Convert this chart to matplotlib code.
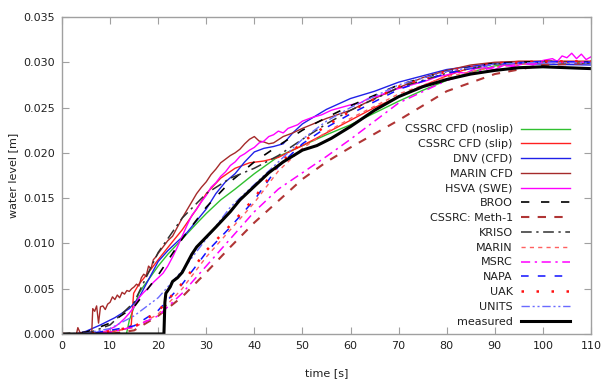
import matplotlib
matplotlib.use('Agg')
import matplotlib.pyplot as plt
import numpy as np

# ---- data (time [s], water level [m]) ----
noslip_t = [0, 13.4, 14, 15, 16, 17, 18, 20, 22, 25, 28, 30, 33, 36, 40, 45, 50, 55, 60, 65, 70, 75, 80, 85, 90, 95, 100, 110]
noslip_v = [0, 0, 0.0015, 0.003, 0.0045, 0.0053, 0.006, 0.0075, 0.0088, 0.0105, 0.0122, 0.0133, 0.0148, 0.016, 0.0177, 0.0196,
            0.0208, 0.022, 0.0231, 0.0244, 0.0257, 0.0269, 0.028, 0.0289, 0.0296, 0.0299, 0.03, 0.03]

slip_t = [0, 5, 10, 13.5, 14.4, 14.9, 16, 18, 20, 23, 25, 28, 30, 33, 36, 39, 42, 45, 48, 50, 55, 60, 65, 70, 75, 80, 85, 90, 95, 100, 110]
slip_v = [0, 0, 0.0002, 0.0006, 0.001, 0.0045, 0.0055, 0.0068, 0.0082, 0.0102, 0.0115, 0.0138, 0.0155, 0.0172, 0.0183, 0.0189,
          0.0191, 0.0195, 0.0203, 0.0208, 0.0222, 0.0236, 0.025, 0.0262, 0.0274, 0.0285, 0.0294, 0.0299, 0.0301, 0.0301, 0.0301]

dnv_t = [0, 3, 5, 8, 11, 14, 16, 18, 20, 22, 24, 26, 28, 30, 32, 34, 36, 38, 40, 42, 44, 46, 48, 50, 55, 60, 65, 70, 80, 90, 100, 110]
dnv_v = [0, 0, 0.0003, 0.001, 0.0018, 0.0028, 0.004, 0.006, 0.008, 0.0092, 0.0102, 0.0112, 0.0125, 0.0138, 0.0155, 0.0168, 0.0177,
         0.019, 0.0201, 0.0205, 0.0207, 0.021, 0.0222, 0.0232, 0.0248, 0.026, 0.0268, 0.0278, 0.0292, 0.0299, 0.0298, 0.0297]

marincfd_t = [0, 3, 3.3, 3.8, 5, 6.2, 6.4, 6.8, 7.2, 7.6, 8, 8.5, 9, 9.5, 10, 10.5, 11, 11.5, 12, 12.5, 13, 13.5, 14, 14.5, 15, 15.5,
              16, 16.5, 17, 17.5, 18, 18.5, 19, 19.5, 20, 21, 22, 23, 24, 25, 26, 27, 28, 29, 30, 31, 32, 33, 34, 35, 36, 37, 38,
              39, 40, 41, 42, 43, 44, 46, 48, 50, 55, 60, 65, 70, 75, 80, 85, 90, 95, 100, 105, 110]
marincfd_v = [0, 0, 0.0007, 0.0001, 0.0002, 0.0003, 0.0028, 0.0025, 0.0031, 0.0012, 0.003, 0.0031, 0.0027, 0.0033, 0.0035, 0.0041,
              0.0038, 0.0043, 0.004, 0.0046, 0.0044, 0.0048, 0.0047, 0.005, 0.0052, 0.0055, 0.0053, 0.0062, 0.0066, 0.0064, 0.0075,
              0.0072, 0.0082, 0.0085, 0.0089, 0.0096, 0.0103, 0.0108, 0.0118, 0.0128, 0.0137, 0.0146, 0.0155, 0.0162, 0.0168,
              0.0176, 0.0182, 0.0189, 0.0193, 0.0197, 0.02, 0.0204, 0.021, 0.0215, 0.0218, 0.0213, 0.0212, 0.021, 0.0211, 0.0218,
              0.0222, 0.0227, 0.0238, 0.0247, 0.026, 0.0272, 0.0283, 0.0291, 0.0297, 0.03, 0.0301, 0.0301, 0.0301, 0.0301]

hsva_t = [0, 7, 9, 11, 12, 13, 14, 15, 16, 17, 18, 19, 20, 21, 22, 23, 24, 25, 26, 27, 28, 29, 30, 31, 32, 33, 34, 35, 36, 37, 38,
          39, 40, 41, 42, 43, 44, 45, 46, 47, 48, 49, 50, 52, 54, 56, 58, 60, 62, 64, 66, 68, 70, 72, 74, 76, 78, 80, 82, 84, 86,
          88, 90, 92, 94, 96, 98, 100, 102, 103, 104, 105, 106, 107, 108, 109, 110]
hsva_v = [0, 0, 0.0003, 0.0008, 0.0012, 0.0017, 0.0023, 0.003, 0.004, 0.0046, 0.0051, 0.0057, 0.0062, 0.0067, 0.0075, 0.0085,
          0.0096, 0.0108, 0.012, 0.0131, 0.0138, 0.0146, 0.0153, 0.0162, 0.0167, 0.0174, 0.0179, 0.0186, 0.019, 0.0196, 0.0199,
          0.0203, 0.0206, 0.0211, 0.0213, 0.0218, 0.022, 0.0224, 0.0222, 0.0227, 0.0229, 0.0231, 0.0235, 0.0239, 0.0242, 0.0247,
          0.025, 0.0253, 0.0255, 0.0261, 0.0263, 0.0268, 0.0271, 0.0274, 0.0277, 0.028, 0.0284, 0.0286, 0.0289, 0.0288, 0.0293,
          0.0294, 0.0292, 0.0297, 0.0295, 0.0299, 0.0297, 0.0302, 0.0304, 0.0301, 0.0307, 0.0305, 0.031, 0.0304, 0.0309, 0.0303, 0.0306]

common_t = [0, 5, 10, 15, 20, 25, 30, 35, 40, 45, 50, 55, 60, 70, 80, 90, 100, 110]
broo_v   = [0, 0.0002, 0.0012, 0.003, 0.0065, 0.0105, 0.014, 0.0168, 0.019, 0.0208, 0.0225, 0.0239, 0.0252, 0.0275, 0.029, 0.0299, 0.0301, 0.03]
meth1_v  = [0, 0, 0, 0.0004, 0.002, 0.0041, 0.0068, 0.0096, 0.0123, 0.0147, 0.0171, 0.019, 0.0206, 0.0236, 0.0268, 0.0287, 0.0297, 0.0299]
kriso_v  = [0, 0, 0.001, 0.0035, 0.009, 0.0128, 0.0155, 0.0172, 0.0183, 0.0197, 0.0215, 0.0232, 0.0247, 0.0272, 0.0288, 0.0298, 0.03, 0.0299]
marin_v  = [0, 0, 0.0003, 0.0007, 0.0022, 0.005, 0.0085, 0.0115, 0.0145, 0.018, 0.0205, 0.0223, 0.0238, 0.0265, 0.0284, 0.0295, 0.03, 0.03]
msrc_v   = [0, 0, 0.0002, 0.0008, 0.002, 0.0045, 0.0075, 0.0105, 0.0135, 0.016, 0.0178, 0.0196, 0.0215, 0.0255, 0.028, 0.0295, 0.03, 0.03]
napa_v   = [0, 0, 0.0004, 0.0009, 0.0026, 0.0055, 0.009, 0.0118, 0.0148, 0.0185, 0.021, 0.0228, 0.0243, 0.027, 0.0288, 0.0298, 0.0301, 0.03]
uak_v    = [0, 0, 0.0003, 0.0008, 0.0025, 0.0056, 0.0092, 0.012, 0.015, 0.0187, 0.0212, 0.023, 0.0246, 0.0273, 0.029, 0.0299, 0.0301, 0.0301]
units_v  = [0, 0.0001, 0.0006, 0.002, 0.004, 0.007, 0.0105, 0.014, 0.0165, 0.019, 0.0215, 0.0235, 0.025, 0.0275, 0.029, 0.0298, 0.03, 0.0299]

meas_t = [0, 21.2, 21.4, 21.6, 22.0, 22.5, 23.0, 24.0, 25.0, 26.0, 27.0, 28.0, 30.0, 32.0, 35.0, 37.0, 40.0, 43.0, 46.0, 50.0,
          53, 56, 60, 65, 70, 75, 80, 85, 90, 95, 100, 105, 110]
meas_v = [0, 0, 0.0035, 0.0045, 0.0048, 0.0052, 0.0058, 0.0062, 0.0068, 0.0078, 0.0088, 0.0096, 0.0107, 0.0118, 0.0135, 0.0148,
          0.0163, 0.0178, 0.019, 0.0203, 0.0208, 0.0216, 0.0229, 0.0247, 0.0262, 0.0273, 0.0281, 0.0287, 0.0291, 0.0294, 0.0295,
          0.0294, 0.0293]

plt.rcParams['font.family'] = ['DejaVu Sans']
fig = plt.figure(figsize=(6.03, 3.81), dpi=100)
ax = fig.add_axes([0.1028, 0.1234, 0.8772, 0.832])

ax.plot(noslip_t, noslip_v, color='#30c030', lw=1.0, label='CSSRC CFD (noslip)')
ax.plot(slip_t, slip_v, color='#ff2020', lw=1.0, label='CSSRC CFD (slip)')
ax.plot(dnv_t, dnv_v, color='#2020e8', lw=1.0, label='DNV (CFD)')
ax.plot(marincfd_t, marincfd_v, color='#a52a2a', lw=1.0, label='MARIN CFD')
ax.plot(hsva_t, hsva_v, color='#ff00ff', lw=1.0, label='HSVA (SWE)')
ax.plot(common_t, broo_v, color='black', lw=1.2, dashes=(5, 7), label='BROO')
ax.plot(common_t, meth1_v, color='#b03535', lw=1.5, dashes=(4, 4), label='CSSRC: Meth-1')
ax.plot(common_t, kriso_v, color='#303030', lw=1.1, dashes=(7, 3, 1.5, 3), label='KRISO')
ax.plot(common_t, marin_v, color='#ff6060', lw=1.0, dashes=(3, 3), label='MARIN')
ax.plot(common_t, msrc_v, color='#ff00ff', lw=1.1, dashes=(6, 3, 1.5, 3), label='MSRC')
ax.plot(common_t, napa_v, color='#1010ff', lw=1.1, dashes=(5, 6), label='NAPA')
ax.plot(common_t, uak_v, color='#ff1010', lw=1.8, dashes=(1, 5), label='UAK')
ax.plot(common_t, units_v, color='#6a6aff', lw=1.0, dashes=(6, 2, 1.5, 2, 1.5, 2), label='UNITS')
ax.plot(meas_t, meas_v, color='black', lw=2.2, label='measured')

ax.set_xlim(0, 110)
ax.set_ylim(0, 0.035)
ax.set_xticks(np.arange(0, 111, 10))
ax.set_yticks(np.arange(0, 0.0351, 0.005))
ax.yaxis.set_major_formatter(matplotlib.ticker.FormatStrFormatter('%.3f'))
ax.tick_params(direction='in', top=True, right=True, length=5, color='#a0a0a0', labelsize=8, labelcolor='#202020', pad=5)
for s in ax.spines.values():
    s.set_color('#a0a0a0')
    s.set_linewidth(1.0)

ax.set_xlabel('time [s]', fontsize=8, color='#202020', labelpad=12)
ax.set_ylabel('water level [m]', fontsize=8, color='#202020', labelpad=4)

leg = ax.legend(loc='lower right', bbox_to_anchor=(0.97, 0.006), markerfirst=False, frameon=False, fontsize=8,
                handlelength=4.4, handletextpad=0.7, labelspacing=0.43, borderpad=0)
for t in leg.get_texts():
    t.set_color('#202020')

fig.savefig('out.png', dpi=100)
